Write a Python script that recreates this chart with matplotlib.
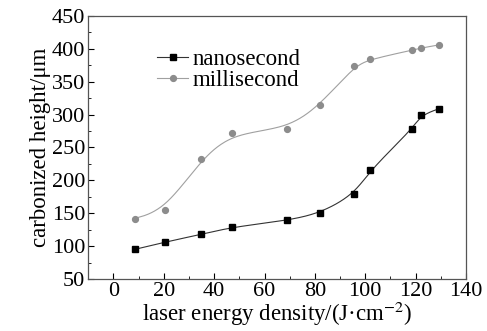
import matplotlib
matplotlib.use('Agg')

import matplotlib.pyplot as plt
import numpy as np
from matplotlib.ticker import MultipleLocator

#=====Data=====
energy = [8.4, 20.4, 34.9, 47.2, 69.0, 82.2, 95.7, 102.0, 118.7, 122.0, 129.4]
nano_height = [95, 106, 118, 129, 139, 150, 179, 216, 278, 299, 309]
milli_height = [142, 155, 232, 272, 278, 315, 374, 384, 398, 401, 406]
#==============

plt.rcParams['font.family'] = ['Liberation Serif', 'DejaVu Serif']
plt.rcParams['mathtext.fontset'] = 'stix'


def bspline(xs, ys, n=40):
    # cubic B-spline using the points as control points (clamped ends)
    p = np.column_stack([xs, ys]).astype(float)
    p = np.vstack([p[0], p[0], p, p[-1], p[-1]])
    t = np.linspace(0, 1, n)
    b0 = (1 - t) ** 3 / 6
    b1 = (3 * t ** 3 - 6 * t ** 2 + 4) / 6
    b2 = (-3 * t ** 3 + 3 * t ** 2 + 3 * t + 1) / 6
    b3 = t ** 3 / 6
    segs = []
    for i in range(len(p) - 3):
        seg = (np.outer(b0, p[i]) + np.outer(b1, p[i + 1])
               + np.outer(b2, p[i + 2]) + np.outer(b3, p[i + 3]))
        segs.append(seg)
    c = np.vstack(segs)
    return c[:, 0], c[:, 1]


fig = plt.figure(figsize=(4.87, 3.31), dpi=100)
ax = fig.add_axes([0.181, 0.157, 0.776, 0.795])

nx, ny = bspline(energy, nano_height)
mx, my = bspline(energy, milli_height)

ax.plot(nx, ny, color='#333333', lw=0.8)
ax.plot(energy, nano_height, 's', color='black', ms=3.8)
ax.plot(mx, my, color='#a0a0a0', lw=0.8)
ax.plot(energy, milli_height, 'o', color='#8c8c8c', ms=4.2)

# legend proxies (line + marker)
ax.plot([], [], '-s', color='#333333', mfc='black', mec='black', ms=3.8, lw=0.8,
        label='nanosecond')
ax.plot([], [], '-o', color='#a0a0a0', mfc='#8c8c8c', mec='#8c8c8c', ms=4.2, lw=0.8,
        label='millisecond')
handles, labels = ax.get_legend_handles_labels()
ax.legend(handles, labels, loc='center left', bbox_to_anchor=(0.183, 0.795), frameon=False,
          fontsize=16.5, handlelength=1.35, handletextpad=0.2, labelspacing=0.0,
          borderpad=0, borderaxespad=0)

ax.set_xlim(-10, 140)
ax.set_ylim(50, 450)
ax.xaxis.set_major_locator(MultipleLocator(20))
ax.xaxis.set_minor_locator(MultipleLocator(10))
ax.yaxis.set_major_locator(MultipleLocator(50))
ax.yaxis.set_minor_locator(MultipleLocator(25))
ax.tick_params(which='both', direction='in', top=False, right=False, labelsize=16, pad=2)
ax.tick_params(which='major', length=4)
ax.tick_params(which='minor', length=2)
for s in ax.spines.values():
    s.set_color('#555555')
    s.set_linewidth(0.9)

ax.set_xlabel('laser energy density/(J·cm$^{-2}$)', fontsize=16.5, labelpad=-1)
ax.set_ylabel('carbonized height/μm', fontsize=16.5, labelpad=1)

plt.savefig('out.png', dpi=100)
